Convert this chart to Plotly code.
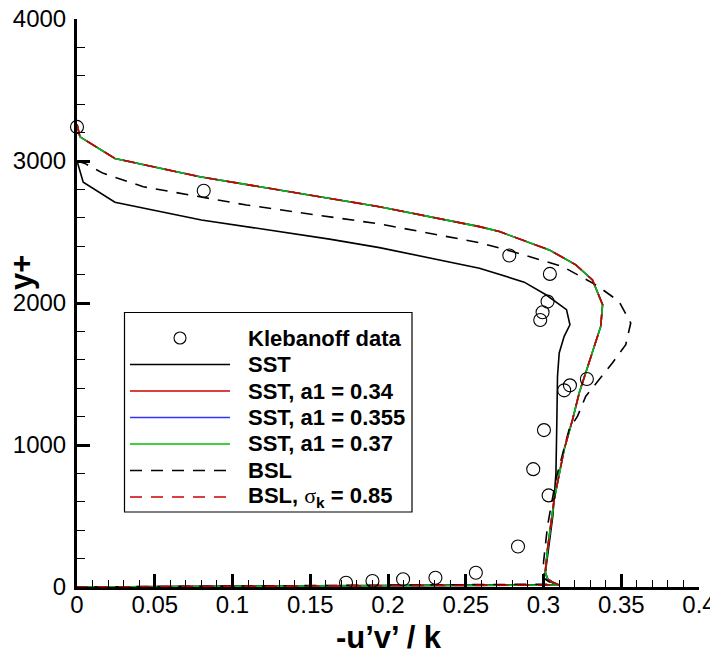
import plotly.graph_objects as go

# ---------------- data ----------------
kleb_x = [0.0, 0.0815, 0.278, 0.3041, 0.3026, 0.2994, 0.2979, 0.3279, 0.317, 0.3133,
          0.3003, 0.2934, 0.3033, 0.2836, 0.2565, 0.2305, 0.2097, 0.190, 0.1730]
kleb_y = [3240, 2790, 2335, 2205, 2010, 1935, 1880, 1465, 1420, 1385,
          1105, 830, 645, 285, 100, 65, 55, 42, 30]

sst_x = [0.0, 0.004, 0.0244, 0.080, 0.1624, 0.1945, 0.2588, 0.2876, 0.3016, 0.3148,
         0.317, 0.3133, 0.3101, 0.309, 0.3086, 0.3080, 0.3060, 0.3030, 0.3012, 0.3030,
         0.3080, 0.0]
sst_y = [3000, 2850, 2710, 2585, 2450, 2390, 2245, 2147, 2058, 1953,
         1847, 1765, 1648, 1484, 1180, 800, 500, 250, 100, 45,
         18, 0]

sst034_x = [0.0, 0.0019, 0.0244, 0.079, 0.1175, 0.1624, 0.1945, 0.2588, 0.2716, 0.3037,
            0.3208, 0.3315, 0.338, 0.3368, 0.3294, 0.323, 0.3187, 0.3133, 0.3069, 0.3026,
            0.3011, 0.3027, 0.306, 0.310, 0.0]
sst034_y = [3260, 3170, 3018, 2889, 2819, 2737, 2678, 2538, 2503, 2374,
            2269, 2163, 1988, 1835, 1578, 1368, 1180, 969, 618, 267,
            103, 56, 33, 14, 0]

sst0355_x = [0.0, 0.0019, 0.0244, 0.079, 0.1175, 0.1624, 0.1945, 0.2588, 0.2716, 0.3037,
             0.3208, 0.3315, 0.338, 0.3368, 0.3294, 0.323, 0.3187, 0.3133, 0.3069, 0.3026,
             0.3011, 0.3027, 0.306, 0.310, 0.0]
sst0355_y = [3260, 3170, 3018, 2889, 2819, 2737, 2678, 2538, 2503, 2374,
             2269, 2163, 1988, 1835, 1578, 1368, 1180, 969, 618, 267,
             103, 56, 33, 14, 0]

sst037_x = [0.0, 0.0019, 0.0244, 0.079, 0.1175, 0.1624, 0.1945, 0.2588, 0.2716, 0.3037,
            0.3208, 0.3315, 0.338, 0.3368, 0.3294, 0.323, 0.3187, 0.3133, 0.3069, 0.3026,
            0.3011, 0.3027, 0.306, 0.310, 0.0]
sst037_y = [3260, 3170, 3018, 2889, 2819, 2737, 2678, 2538, 2503, 2374,
            2269, 2163, 1988, 1835, 1578, 1368, 1180, 969, 618, 267,
            103, 56, 33, 14, 0]

bsl_x = [0.0, 0.005, 0.0169, 0.0426, 0.109, 0.1624, 0.1945, 0.2588, 0.280, 0.3122,
         0.3337, 0.3486, 0.3561, 0.3529, 0.3443, 0.3358, 0.3272, 0.3219, 0.3165, 0.308,
         0.3026, 0.300, 0.3005, 0.306, 0.0]
bsl_y = [3000, 2983, 2913, 2819, 2690, 2608, 2557, 2425, 2362, 2257,
         2128, 2011, 1859, 1707, 1578, 1461, 1344, 1203, 1110, 759,
         431, 173, 60, 20, 0]

bslk_x = [0.0, 0.0019, 0.0244, 0.079, 0.1175, 0.1624, 0.1945, 0.2588, 0.2716, 0.3037,
          0.3208, 0.3315, 0.338, 0.3368, 0.3294, 0.323, 0.3187, 0.3133, 0.3069, 0.3026,
          0.3011, 0.3027, 0.306, 0.310, 0.0]
bslk_y = [3260, 3170, 3018, 2889, 2819, 2737, 2678, 2538, 2503, 2374,
          2269, 2163, 1988, 1835, 1578, 1368, 1180, 969, 618, 267,
          103, 56, 33, 14, 0]

x_ticks = [0, 0.05, 0.1, 0.15, 0.2, 0.25, 0.3, 0.35, 0.4]
x_tick_labels = ["0", "0.05", "0.1", "0.15", "0.2", "0.25", "0.3", "0.35", "0.4"]
y_ticks = [0, 1000, 2000, 3000, 4000]
y_tick_labels = ["0", "1000", "2000", "3000", "4000"]

legend_labels = ["Klebanoff data", "SST", "SST, a1 = 0.34", "SST, a1 = 0.355",
                 "SST, a1 = 0.37", "BSL",
                 "BSL, <span style=\"font-family:'Liberation Serif';font-weight:normal\">σ</span><sub>k</sub> = 0.85"]

# ---------------- styles ----------------
RED = "#cc0000"
BLUE = "#3333ff"
GREEN = "#00c000"
DASH = "12px,9px"
LW = 1.6

# the page body adds an 8px offset; target window positions are given in
# window pixels and converted here
OFF = 8
W, H = 718 - OFF, 660 - OFF
ML = 77 - OFF
MT = 19 - OFF
MR = W - (699 - OFF)
MB = H - (587 - OFF)
PW, PH = W - ML - MR, H - MT - MB

fig = go.Figure()

def line_trace(x, y, color, dash="solid", name=""):
    fig.add_trace(go.Scatter(x=x, y=y, mode="lines", name=name,
                             line=dict(color=color, width=LW, dash=dash),
                             showlegend=False, cliponaxis=True))

line_trace(sst_x, sst_y, "black", name="SST")
line_trace(sst034_x, sst034_y, RED, name="SST, a1 = 0.34")
line_trace(sst0355_x, sst0355_y, BLUE, name="SST, a1 = 0.355")
line_trace(sst037_x, sst037_y, GREEN, name="SST, a1 = 0.37")
line_trace(bsl_x, bsl_y, "black", DASH, name="BSL")
line_trace(bslk_x, bslk_y, RED, DASH, name="BSL, sigma_k = 0.85")

fig.add_trace(go.Scatter(x=kleb_x, y=kleb_y, mode="markers", name="Klebanoff data",
                         marker=dict(symbol="circle-open", size=13,
                                     line=dict(color="black", width=1.1), color="black"),
                         showlegend=False, cliponaxis=False))

# ---------------- manual legend (window pixel positions -> paper) ----------------
def px(xp):
    return (xp - OFF - ML) / PW

def py(yp):
    return (MT + PH - (yp - OFF)) / PH

shapes = []
annotations = []
shapes.append(dict(type="rect", xref="paper", yref="paper",
                   x0=px(124.5), x1=px(412), y0=py(512), y1=py(312.5),
                   line=dict(color="black", width=1.2), fillcolor="white", layer="above"))

row_y = [338, 364.5, 391, 417.5, 444, 470.5, 497]
leg_styles = [None, ("black", "solid"), (RED, "solid"), (BLUE, "solid"),
              (GREEN, "solid"), ("black", DASH), (RED, DASH)]
for lab, yy, st in zip(legend_labels, row_y, leg_styles):
    if st is None:
        shapes.append(dict(type="circle", xref="paper", yref="paper",
                           x0=px(174), x1=px(186), y0=py(yy + 6), y1=py(yy - 6),
                           line=dict(color="black", width=1.1), layer="above"))
    else:
        shapes.append(dict(type="line", xref="paper", yref="paper",
                           x0=px(130), x1=px(230), y0=py(yy), y1=py(yy),
                           line=dict(color=st[0], width=LW, dash=st[1]), layer="above"))
    annotations.append(dict(xref="paper", yref="paper", x=px(246), y=py(yy),
                            xanchor="left", yanchor="middle", showarrow=False,
                            text=lab,
                            font=dict(family="Liberation Sans, Arial", size=22,
                                      color="black", weight="bold")))

# axis titles
annotations.append(dict(xref="paper", yref="paper", x=px(389), y=py(637),
                        xanchor="center", yanchor="middle", showarrow=False,
                        text="-u’v’ / k",
                        font=dict(family="Liberation Sans, Arial", size=31,
                                  color="black", weight="bold")))
annotations.append(dict(xref="paper", yref="paper", x=px(21), y=py(273),
                        xanchor="center", yanchor="middle", showarrow=False,
                        text="y+", textangle=-90,
                        font=dict(family="Liberation Sans, Arial", size=31,
                                  color="black", weight="bold")))

tick_font = dict(family="Liberation Sans, Arial", size=24, color="black")

fig.update_layout(
    width=W, height=H,
    margin=dict(l=ML, r=MR, t=MT, b=MB, pad=0, autoexpand=False),
    paper_bgcolor="white", plot_bgcolor="white",
    shapes=shapes, annotations=annotations,
    showlegend=False,
    xaxis=dict(range=[0, 0.4], tickvals=x_ticks, ticktext=x_tick_labels,
               automargin=False, ticklabeloverflow="allow",
               ticks="inside", ticklen=13, tickwidth=2.5, tickcolor="black",
               showline=True, linewidth=3, linecolor="black",
               showgrid=False, zeroline=False, tickfont=tick_font,
               ticklabelstandoff=-6,
               minor=dict(dtick=0.01, tick0=0, ticks="inside", ticklen=7,
                          tickwidth=1, tickcolor="black", showgrid=False)),
    yaxis=dict(range=[0, 4000], tickvals=y_ticks, ticktext=y_tick_labels,
               automargin=False, ticklabeloverflow="allow",
               ticks="inside", ticklen=13, tickwidth=2.5, tickcolor="black",
               showline=True, linewidth=3, linecolor="black",
               showgrid=False, zeroline=False, tickfont=tick_font,
               ticklabelstandoff=3,
               minor=dict(dtick=200, tick0=0, ticks="inside", ticklen=8,
                          tickwidth=1, tickcolor="black", showgrid=False)),
)

fig.write_html("out.html")
